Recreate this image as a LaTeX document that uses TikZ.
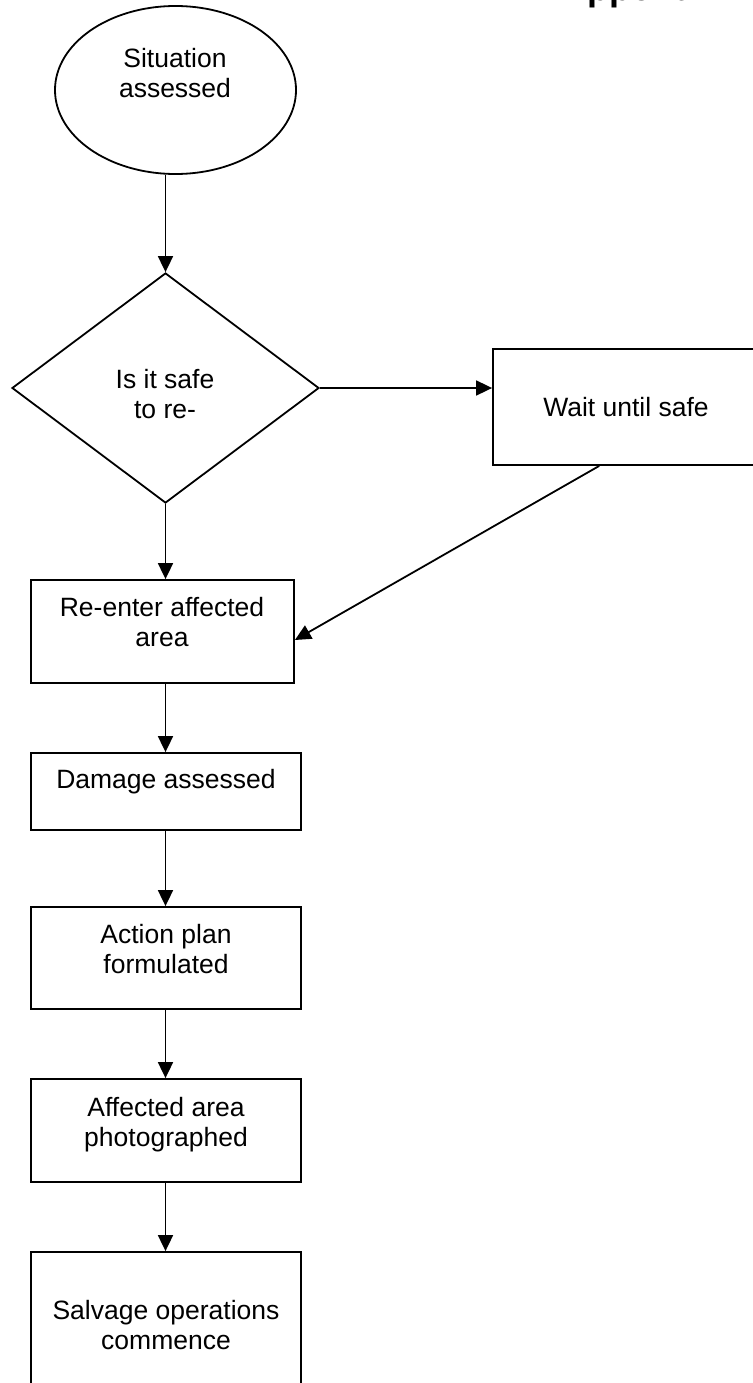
\documentclass[tikz,border=0pt]{standalone}
\usepackage{fontspec}
\setmainfont{Liberation Sans}
\usetikzlibrary{shapes.geometric,arrows.meta,calc}
\begin{document}
\begin{tikzpicture}[x=1pt,y=-1pt,
  shp/.style={draw,line width=1.8pt,inner sep=0pt},
  box/.style={shp,rectangle},
  lbl/.style={font=\fontsize{26.5}{30}\selectfont,align=center,inner sep=0pt,anchor=north},
  arr/.style={line width=1.8pt,-{Triangle[length=16pt,width=15pt]}}]
\useasboundingbox (0,0) rectangle (752,1383);
\node[anchor=base west,inner sep=0pt,font=\fontsize{36}{40}\selectfont\bfseries] (title) at (561,1) {Appendix};
% shapes
\node[shp,ellipse,minimum width=241pt,minimum height=168pt] (ell) at (175.5,90) {};
\node[shp,diamond,minimum width=307pt,minimum height=230pt] (dia) at (165.5,388) {};
\node[box,minimum width=266pt,minimum height=116pt] (wait) at (626,407) {};
\node[box,minimum width=263pt,minimum height=103pt] (re) at (162.5,631.5) {};
\node[box,minimum width=270pt,minimum height=77pt] (dmg) at (166,791.5) {};
\node[box,minimum width=270pt,minimum height=102pt] (act) at (166,958) {};
\node[box,minimum width=270pt,minimum height=103pt] (aff) at (166,1130.5) {};
\node[box,minimum width=270pt,minimum height=138pt] (sal) at (166,1321) {};
% labels
\node[lbl] (t1) at (175,48) {Situation\\assessed};
\node[lbl] (t2) at (165,369) {Is it safe\\to re-};
\node[lbl] (t3) at (626,397) {Wait until safe};
\node[lbl] (t4) at (162,597) {Re-enter affected\\area};
\node[lbl] (t5) at (166,769) {Damage assessed};
\node[lbl] (t6) at (166,924) {Action plan\\formulated};
\node[lbl] (t7) at (166,1097) {Affected area\\photographed};
\node[lbl] (t8) at (166,1300) {Salvage operations\\commence};
% connectors
\draw[arr] (dia.north |- ell.south) -- (dia.north);
\draw[arr] (dia.east) -- (dia.east -| wait.west);
\draw[arr] ($(wait.south west)!0.4!(wait.south east)$) -- ($(re.east)+(0,8.5)$);
\draw[arr] (dia.south) -- (dia.south |- re.north);
\draw[arr] (dia.south |- re.south) -- (dia.south |- dmg.north);
\draw[arr] (dia.south |- dmg.south) -- (dia.south |- act.north);
\draw[arr] (dia.south |- act.south) -- (dia.south |- aff.north);
\draw[arr] (dia.south |- aff.south) -- (dia.south |- sal.north);
\end{tikzpicture}
\end{document}
